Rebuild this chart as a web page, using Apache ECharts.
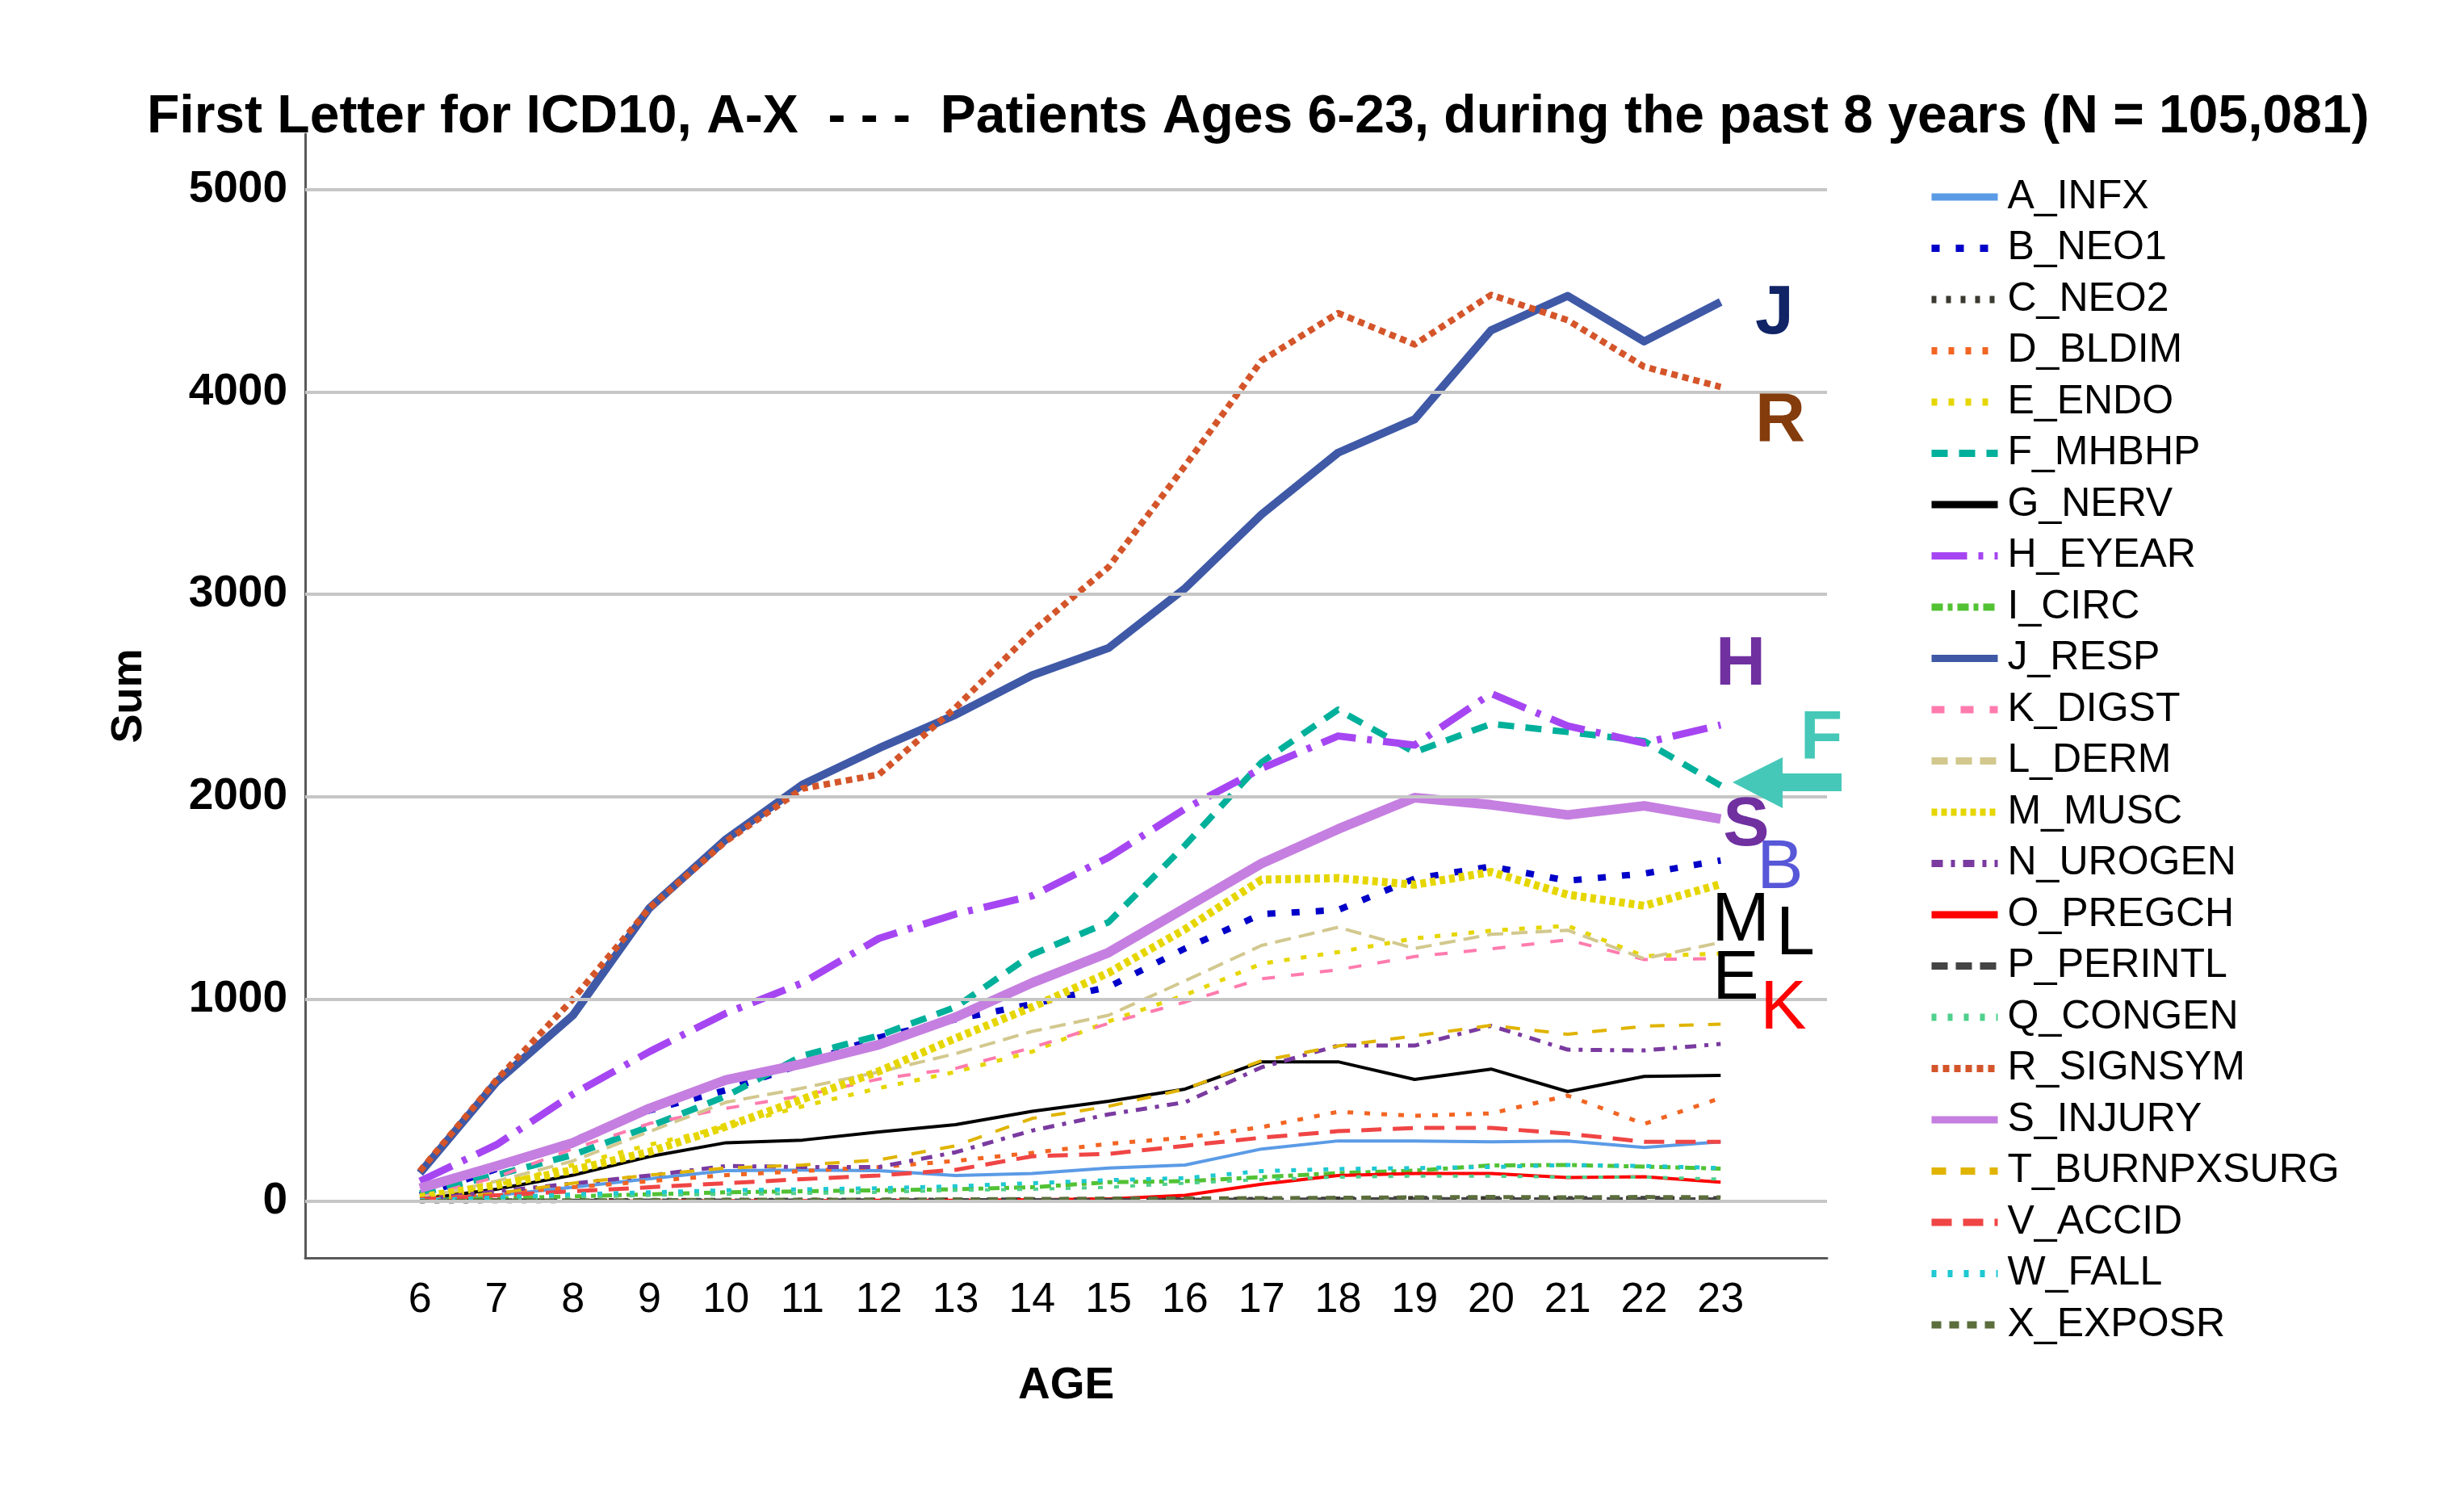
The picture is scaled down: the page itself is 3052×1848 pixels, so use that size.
<!DOCTYPE html>
<html>
<head>
<meta charset="utf-8">
<style>
html,body{margin:0;padding:0;background:#fff;}
#main{width:3052px;height:1848px;}
</style>
<script src="https://cdn.jsdelivr.net/npm/echarts@6/dist/echarts.min.js"></script>
</head>
<body>
<div id="main"></div>
<script>
const ages = [6,7,8,9,10,11,12,13,14,15,16,17,18,19,20,21,22,23];
const yTicks = [0,1000,2000,3000,4000,5000];

const A_INFX = [5,30,70,112,152,155,152,128,138,165,180,259,299,299,295,299,267,295];
const B_NEO1 = [30,160,300,450,550,680,810,900,975,1060,1250,1420,1440,1595,1655,1585,1620,1685];
const C_NEO2 = [2,3,4,5,5,6,6,7,8,8,10,10,12,15,14,14,15,14];
const D_BLDIM = [10,40,70,100,130,150,170,200,240,285,315,367,443,423,435,523,383,511];
const E_ENDO = [10,80,180,280,370,470,560,640,740,890,1020,1175,1232,1300,1338,1362,1212,1225];
const F_MHBHP = [40,130,230,370,520,720,820,960,1220,1380,1760,2170,2430,2220,2360,2320,2275,2055];
const G_NERV = [10,60,130,222,290,303,343,379,445,495,555,690,690,603,654,543,618,623];
const H_EYEAR = [100,280,530,740,930,1080,1300,1420,1510,1700,1940,2140,2300,2255,2510,2350,2265,2355];
const I_CIRC = [5,15,25,35,45,50,55,60,70,95,100,120,140,152,178,180,172,162];
const J_RESP = [140,590,920,1450,1790,2060,2240,2405,2600,2735,3030,3395,3700,3865,4305,4475,4250,4445];
const K_DIGST = [20,120,260,385,460,522,605,657,760,880,985,1100,1145,1210,1248,1293,1195,1200];
const L_DERM = [15,100,200,345,490,560,640,730,840,920,1090,1265,1355,1250,1320,1340,1200,1280];
const M_MUSC = [20,80,155,245,370,505,643,806,960,1130,1345,1590,1598,1565,1628,1516,1461,1568];
const N_UROGEN = [10,50,88,128,175,170,170,243,350,430,490,663,770,770,868,750,746,778];
const O_PREGCH = [0,0,0,2,3,3,5,5,8,12,30,85,128,138,138,118,122,95];
const P_PERINTL = [3,4,3,4,4,5,5,6,6,7,8,8,10,12,10,10,12,10];
const Q_CONGEN = [5,15,20,30,35,40,45,55,60,70,90,108,120,125,125,120,120,110];
const R_SIGNSYM = [150,600,1000,1450,1780,2040,2110,2440,2815,3135,3635,4155,4390,4235,4480,4355,4125,4025];
const S_INJURY = [65,175,290,460,600,680,775,910,1080,1230,1450,1670,1840,1995,1960,1910,1955,1890];
const T_BURNPXSURG = [5,40,90,130,165,180,205,275,410,470,555,695,768,818,870,826,866,876];
const V_ACCID = [10,30,50,70,90,110,128,156,223,235,275,315,347,363,363,335,295,295];
const W_FALL = [5,20,35,45,55,60,65,75,90,105,115,150,160,165,170,180,175,165];
const X_EXPOSR = [2,4,5,6,8,8,9,10,12,14,15,16,18,20,22,20,22,20];

const seriesDefs = [
  ['A_INFX', A_INFX, '#5b9be6', 4, 'solid'],
  ['B_NEO1', B_NEO1, '#0000c8', 8, [10,20]],
  ['C_NEO2', C_NEO2, '#3a3a30', 6, [6,12]],
  ['D_BLDIM', D_BLDIM, '#f26522', 5, [7,14]],
  ['E_ENDO', E_ENDO, '#e6d600', 5, [7,14]],
  ['F_MHBHP', F_MHBHP, '#00b09b', 8, [20,14]],
  ['G_NERV', G_NERV, '#000000', 4, 'solid'],
  ['H_EYEAR', H_EYEAR, '#a646f2', 9, [44,14,6,14]],
  ['I_CIRC', I_CIRC, '#52c234', 5, [14,6,6,6]],
  ['J_RESP', J_RESP, '#3f59a7', 10, 'solid'],
  ['K_DIGST', K_DIGST, '#ff7bae', 4, [16,20]],
  ['L_DERM', L_DERM, '#d2c88e', 4, [20,10]],
  ['M_MUSC', M_MUSC, '#e6d600', 10, [7,5]],
  ['N_UROGEN', N_UROGEN, '#7a3aa0', 5, [14,10,5,10]],
  ['O_PREGCH', O_PREGCH, '#ff0000', 4, 'solid'],
  ['P_PERINTL', P_PERINTL, '#444444', 5, [20,10]],
  ['Q_CONGEN', Q_CONGEN, '#4fd08c', 4, [6,14]],
  ['R_SIGNSYM', R_SIGNSYM, '#d4552a', 8, [8,6]],
  ['S_INJURY', S_INJURY, '#c57fe0', 12, 'solid'],
  ['T_BURNPXSURG', T_BURNPXSURG, '#e0b400', 4, [18,18]],
  ['V_ACCID', V_ACCID, '#f04545', 5, [25,14]],
  ['W_FALL', W_FALL, '#1fc8d2', 5, [6,14]],
  ['X_EXPOSR', X_EXPOSR, '#5b6e3c', 5, [12,10]]
];

const FONT = '"Liberation Sans", Arial, "DejaVu Sans", sans-serif';

const series = seriesDefs.map(function(d){
  return {
    name: d[0], type: 'line', symbol: 'none', showSymbol: false, smooth: false,
    silent: true, z: 3,
    data: ages.map(function(a, i){ return [a, d[1][i]]; }),
    lineStyle: { color: d[2], width: d[3], type: d[4], cap: 'butt', join: 'round' },
    itemStyle: { color: d[2] },
    emphasis: { disabled: true }
  };
});

series.unshift({
  name: '__grid', type: 'line', data: [], symbol: 'none', silent: true, z: 1,
  markLine: {
    silent: true, symbol: ['none','none'], animation: false,
    label: { show: false },
    lineStyle: { color: '#c6c6c6', width: 4, type: 'solid' },
    data: yTicks.map(function(v){ return { yAxis: v }; })
  }
});

const annos = [
  ['J', 2198, 389, '#102466', 'bold'],
  ['R', 2205, 522, '#843c0c', 'bold'],
  ['H', 2156, 824, '#7030a0', 'bold'],
  ['F', 2256, 916, '#45c8b8', 'bold'],
  ['S', 2163, 1023, '#7030a0', 'bold'],
  ['B', 2205, 1076, '#5757d8', 'normal'],
  ['M', 2156, 1141, '#000000', 'normal'],
  ['L', 2224, 1158, '#000000', 'normal'],
  ['E', 2150, 1213, '#000000', 'normal'],
  ['K', 2209, 1250, '#ff0000', 'normal']
];

const graphics = annos.map(function(a){
  return {
    type: 'text', x: a[1], y: a[2], silent: true, z: 10,
    style: {
      text: a[0], fill: a[3], font: a[4] + ' 86px ' + FONT,
      align: 'center', verticalAlign: 'middle',
      textAlign: 'center', textVerticalAlign: 'middle'
    }
  };
});
graphics.push({
  type: 'polygon', silent: true, z: 10,
  shape: { points: [[2146,969],[2208,938],[2208,958],[2281,958],[2281,980],[2208,980],[2208,1001]] },
  style: { fill: '#45c8b8' }
});

const chart = echarts.init(document.getElementById('main'), null, { renderer: 'canvas' });
chart.setOption({
  animation: false,
  backgroundColor: '#ffffff',
  title: {
    text: 'First Letter for ICD10, A-X  - - -  Patients Ages 6-23, during the past 8 years (N = 105,081)',
    left: 177, top: 108,
    textStyle: { fontFamily: FONT, fontSize: 66, fontWeight: 'bold', color: '#000' }
  },
  grid: { left: 378, right: 789, top: 166, bottom: 290, containLabel: false },
  legend: {
    orient: 'vertical', left: 2383, top: 214,
    itemWidth: 82, itemHeight: 24, itemGap: 13.5,
    selectedMode: false,
    data: seriesDefs.map(function(d){ return d[0]; }),
    lineStyle: { width: 9 },
    itemStyle: { opacity: 0 },
    textStyle: { fontFamily: FONT, fontSize: 50, color: '#000', padding: [0,0,0,7] }
  },
  xAxis: {
    type: 'value', min: 4.5, max: 24.39,
    name: 'AGE', nameLocation: 'middle', nameGap: 131,
    nameTextStyle: { fontFamily: FONT, fontSize: 55, fontWeight: 'bold', color: '#000' },
    axisLine: { show: true, onZero: false, lineStyle: { color: '#595959', width: 3 } },
    axisTick: { show: false },
    splitLine: { show: false },
    axisLabel: { customValues: ages, margin: 27, fontFamily: FONT, fontSize: 52, color: '#000',
      formatter: function(v){ return String(v); } }
  },
  yAxis: {
    type: 'value', min: -279, max: 5275,
    name: 'Sum', nameLocation: 'middle', nameGap: 191,
    nameTextStyle: { fontFamily: FONT, fontSize: 54, fontWeight: 'bold', color: '#000' },
    axisLine: { show: true, lineStyle: { color: '#595959', width: 3 } },
    axisTick: { show: false },
    splitLine: { show: false },
    axisLabel: { customValues: yTicks, margin: 22, fontFamily: FONT, fontSize: 55, fontWeight: 'bold', color: '#000',
      formatter: function(v){ return String(v); } }
  },
  graphic: graphics,
  series: series
});
</script>
</body>
</html>
